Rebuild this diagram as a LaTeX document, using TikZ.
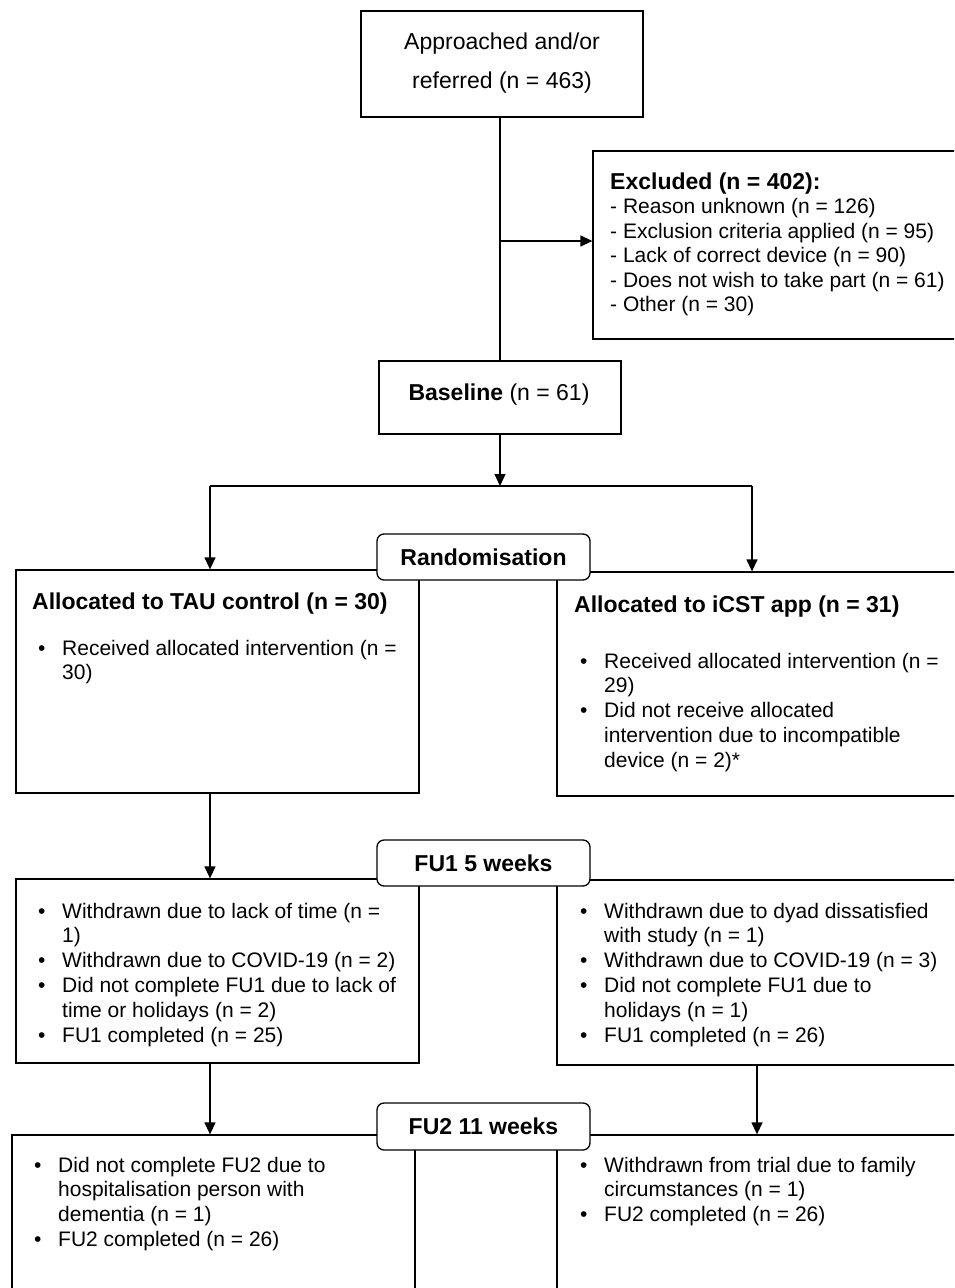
\documentclass[tikz,border=0pt]{standalone}
\usepackage{fontspec}
\setmainfont{Liberation Sans}
\usetikzlibrary{arrows.meta}
\newcommand\bodyf{\fontsize{21}{24.8}\selectfont}
\newcommand\headf{\fontsize{23}{27}\selectfont\bfseries}
\newcommand\bul{\makebox[24pt][l]{•}}
\newcommand\ind{\hspace*{24pt}}
\newcommand\ltab[1]{\begin{tabular}[t]{@{}l@{}}#1\end{tabular}}
\tikzset{
  box/.style={draw, line width=1.3pt, inner sep=0pt},
  rbox/.style={draw, line width=1.3pt, rounded corners=7pt, fill=white, minimum width=213pt, minimum height=46pt, inner sep=0pt, font=\headf},
  txt/.style={anchor=base west, inner sep=0pt},
  ln/.style={line width=1.3pt},
  arr/.style={line width=1.3pt, -{Triangle[length=12pt,width=11pt]}}
}
\begin{document}
\begin{tikzpicture}[x=1pt,y=-1pt]
\useasboundingbox (0,0) rectangle (954,1288);
\clip (0,0) rectangle (954,1288);
% boxes
\node[box, minimum width=282pt, minimum height=106pt] (top) at (502,64) {};
\node[box, minimum width=397pt, minimum height=188pt] (excl) at (791.5,245) {};
\node[box, minimum width=242pt, minimum height=73pt] (base) at (500,397.5) {};
\node[box, minimum width=403pt, minimum height=223pt] (tau) at (217.5,681.5) {};
\node[box, minimum width=433pt, minimum height=224pt] (icst) at (773.5,684) {};
\node[box, minimum width=403pt, minimum height=184pt] (fu1l) at (217.5,971) {};
\node[box, minimum width=433pt, minimum height=185pt] (fu1r) at (773.5,972.5) {};
\node[box, minimum width=403pt, minimum height=165pt] (fu2l) at (213.5,1217.5) {};
\node[box, minimum width=433pt, minimum height=165pt] (fu2r) at (773.5,1217.5) {};
% connectors
\draw[ln] (top.south -| base.north) -- (base.north);
\coordinate (s1) at (500,241);
\draw[arr] (s1) -- (s1 -| excl.west);
\coordinate (s2) at (500,486);
\draw[arr] (base.south) -- (s2);
\coordinate (sl) at (210,486);
\coordinate (sr) at (752,486);
\draw[ln] (sl) -- (sr);
\draw[arr] (sl) -- (sl |- tau.north);
\draw[arr] (sr) -- (sr |- icst.north);
\draw[arr] (sl |- tau.south) -- (sl |- fu1l.north);
\draw[arr] (sl |- fu1l.south) -- (sl |- fu2l.north);
\coordinate (sr2) at (757,0);
\draw[arr] (sr2 |- fu1r.south) -- (sr2 |- fu2r.north);
% rounded labels
\node[rbox] (rand) at (483.5,557) {Randomisation};
\node[rbox] (fu1) at (483.5,863) {FU1 5 weeks};
\node[rbox, minimum height=47pt] (fu2) at (483.5,1126.5) {FU2 11 weeks};
% texts
\node[anchor=base, inner sep=0pt] (topt) at (502,49) {\fontsize{23}{39}\selectfont\begin{tabular}[t]{@{}c@{}}Approached and/or\\referred (n = 463)\end{tabular}};
\node[txt] (exclt) at (610,189) {\fontsize{21}{24.5}\selectfont\ltab{{\headf Excluded (n = 402):}\\- Reason unknown (n = 126)\\- Exclusion criteria applied (n = 95)\\- Lack of correct device (n = 90)\\- Does not wish to take part (n = 61)\\- Other (n = 30)}};
\node[anchor=base, inner sep=0pt] (baset) at (499,400) {\fontsize{23}{27}\selectfont\textbf{Baseline} (n = 61)};
\node[txt] (taut) at (32,609) {\headf Allocated to TAU control (n = 30)};
\node[txt] (taul) at (38,655) {\bodyf\ltab{\bul Received allocated intervention (n =\\\ind 30)}};
\node[txt] (icstt) at (574,612) {\headf Allocated to iCST app (n = 31)};
\node[txt] (icstl) at (580,668) {\bodyf\ltab{\bul Received allocated intervention (n =\\\ind 29)\\\bul Did not receive allocated\\\ind intervention due to incompatible\\\ind device (n = 2)*}};
\node[txt] (fu1lt) at (38,918) {\bodyf\ltab{\bul Withdrawn due to lack of time (n =\\\ind 1)\\\bul Withdrawn due to COVID-19 (n = 2)\\\bul Did not complete FU1 due to lack of\\\ind time or holidays (n = 2)\\\bul FU1 completed (n = 25)}};
\node[txt] (fu1rt) at (580,918) {\bodyf\ltab{\bul Withdrawn due to dyad dissatisfied\\\ind with study (n = 1)\\\bul Withdrawn due to COVID-19 (n = 3)\\\bul Did not complete FU1 due to\\\ind holidays (n = 1)\\\bul FU1 completed (n = 26)}};
\node[txt] (fu2lt) at (34,1172) {\bodyf\ltab{\bul Did not complete FU2 due to\\\ind hospitalisation person with\\\ind dementia (n = 1)\\\bul FU2 completed (n = 26)}};
\node[txt] (fu2rt) at (580,1172) {\bodyf\ltab{\bul Withdrawn from trial due to family\\\ind circumstances (n = 1)\\\bul FU2 completed (n = 26)}};
\end{tikzpicture}
\end{document}
